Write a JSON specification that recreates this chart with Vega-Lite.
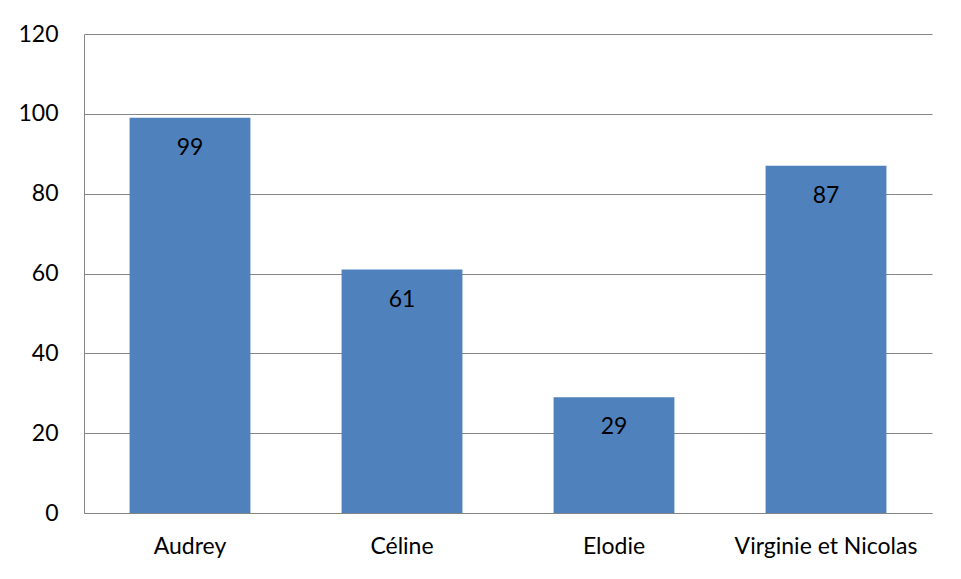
{
  "$schema": "https://vega.github.io/schema/vega-lite/v6.json",
  "width": 848,
  "height": 479,
  "autosize": "none",
  "padding": {"left": 84, "top": 34, "right": 29, "bottom": 66},
  "background": "white",
  "data": {"values": [
    {"name": "Audrey", "value": 99},
    {"name": "Céline", "value": 61},
    {"name": "Elodie", "value": 29},
    {"name": "Virginie et Nicolas", "value": 87}
  ]},
  "config": {
    "font": "Lato",
    "view": {"stroke": null}
  },
  "encoding": {
    "x": {"field": "name", "type": "nominal", "sort": null,
      "scale": {"paddingInner": 0.43, "paddingOuter": 0.215},
      "axis": {"title": null, "labelAngle": 0, "labelFontSize": 23, "labelLimit": 0, "labelColor": "black", "ticks": false, "domainColor": "#868686", "labelPadding": 22, "labelFont": "Lato"}},
    "y": {"field": "value", "type": "quantitative",
      "scale": {"domain": [0, 120], "nice": false},
      "axis": {"title": null, "values": [0, 20, 40, 60, 80, 100, 120], "labelFontSize": 23, "labelColor": "black", "ticks": false, "domainColor": "#868686", "gridColor": "#868686", "gridOpacity": 1, "labelPadding": 26, "labelFont": "Lato"}}
  },
  "layer": [
    {"mark": {"type": "bar", "color": "#4F81BD"}},
    {"mark": {"type": "text", "baseline": "middle", "dy": 30, "fontSize": 23, "color": "black", "font": "Lato"},
     "encoding": {"text": {"field": "value", "type": "quantitative"}}}
  ]
}
